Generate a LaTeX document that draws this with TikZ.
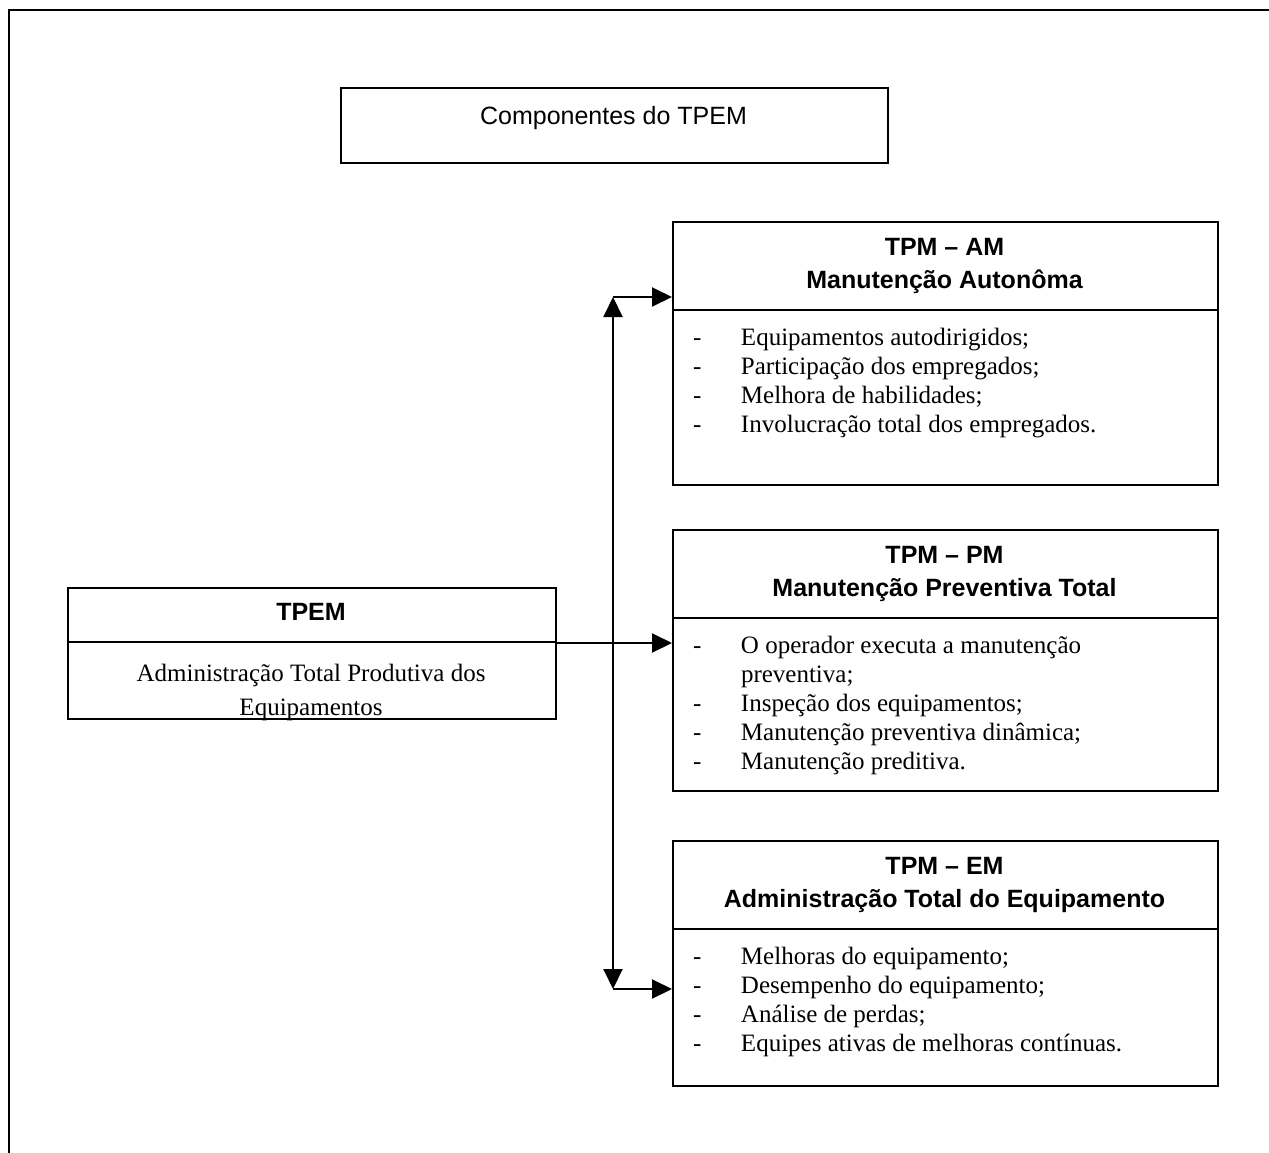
\documentclass[tikz,border=0pt]{standalone}
\usepackage{fontspec}
\setmainfont{Liberation Serif}
\newfontfamily\arialfont{Liberation Sans}
\usetikzlibrary{arrows.meta}

\begin{document}
\begin{tikzpicture}[x=1pt,y=-1pt,line width=2pt,
  >={Triangle[length=20pt,width=19pt]},
  panel/.style={draw,rectangle,inner sep=0pt,anchor=north west},
  head/.style={font=\arialfont\bfseries\fontsize{25}{33}\selectfont,anchor=base,inner sep=0pt},
  plain/.style={font=\arialfont\fontsize{25}{29}\selectfont,anchor=base,inner sep=0pt},
  items/.style={font=\fontsize{25}{29}\selectfont,anchor=base west,inner sep=0pt},
  body/.style={font=\fontsize{25}{29}\selectfont,anchor=base,inner sep=0pt},
  link/.style={->},
  both/.style={<->}
]
\useasboundingbox (0,0) rectangle (1269,1153);

% page frame (open at the bottom and right)
\draw (9,1160) -- (9,10) -- (1275,10);

% title
\node[panel,minimum width=547pt,minimum height=75pt] (titlebox) at (340,87) {};
\node[plain] (titletext) at (613.5,125) {Componentes do TPEM};

% TPEM box
\node[panel,minimum width=488pt,minimum height=131pt] (tpem) at (67,587) {};
\draw (tpem.west |- 0,642) -- (tpem.east |- 0,642);
\node[head] (tpemhead) at (311,620) {TPEM};
\begin{scope}
  \clip (tpem.north west) rectangle (tpem.south east);
  \node[body] (tpemtext) at (311,681)
    {\begin{tabular}[t]{@{}c@{}}Administração Total Produtiva dos\\[5pt]Equipamentos\end{tabular}};
\end{scope}

% TPM - AM
\node[panel,minimum width=545pt,minimum height=263pt] (am) at (672,221) {};
\draw ([yshift=-89pt]am.north west) -- ([yshift=-89pt]am.north east);
\node[head] (amhead) at (944.5,255)
  {\begin{tabular}[t]{@{}c@{}}TPM – AM\\Manutenção Autonôma\end{tabular}};
\node[items] (amlist) at (692,345)
  {\begin{tabular}[t]{@{}p{48pt}@{}l@{}}
   -&Equipamentos autodirigidos;\\
   -&Participação dos empregados;\\
   -&Melhora de habilidades;\\
   -&Involucração total dos empregados.
   \end{tabular}};

% TPM - PM
\node[panel,minimum width=545pt,minimum height=261pt] (pm) at (672,529) {};
\draw ([yshift=-89pt]pm.north west) -- ([yshift=-89pt]pm.north east);
\node[head] (pmhead) at (944.5,563)
  {\begin{tabular}[t]{@{}c@{}}TPM – PM\\Manutenção Preventiva Total\end{tabular}};
\node[items] (pmlist) at (692,653)
  {\begin{tabular}[t]{@{}p{48pt}@{}l@{}}
   -&O operador executa a manutenção\\
    &preventiva;\\
   -&Inspeção dos equipamentos;\\
   -&Manutenção preventiva dinâmica;\\
   -&Manutenção preditiva.
   \end{tabular}};

% TPM - EM
\node[panel,minimum width=545pt,minimum height=245pt] (em) at (672,840) {};
\draw ([yshift=-89pt]em.north west) -- ([yshift=-89pt]em.north east);
\node[head] (emhead) at (944.5,874)
  {\begin{tabular}[t]{@{}c@{}}TPM – EM\\Administração Total do Equipamento\end{tabular}};
\node[items] (emlist) at (692,964)
  {\begin{tabular}[t]{@{}p{48pt}@{}l@{}}
   -&Melhoras do equipamento;\\
   -&Desempenho do equipamento;\\
   -&Análise de perdas;\\
   -&Equipes ativas de melhoras contínuas.
   \end{tabular}};

% connectors
\coordinate (jtop) at (613,297);
\coordinate (jbot) at (613,989);
\coordinate (tout) at (555,643);
\draw[both] (jtop) -- (jbot);
\draw[link] (jtop) -- (am.west |- jtop);
\draw[link] (jbot) -- (em.west |- jbot);
\draw[link] (tout) -- (pm.west |- tout);
\end{tikzpicture}
\end{document}
